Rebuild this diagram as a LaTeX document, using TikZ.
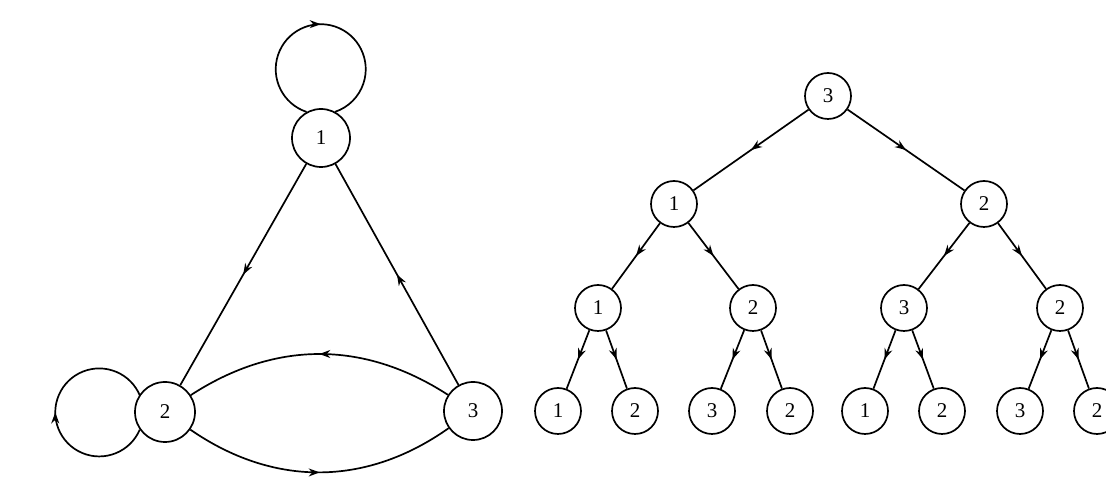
\documentclass[tikz,border=0pt]{standalone}
\usepackage{fontspec}
\setmainfont{Liberation Serif}
\usetikzlibrary{arrows.meta,decorations.markings}
\tikzset{
  gnode/.style={circle,draw,line width=1.7pt,minimum size=58pt,inner sep=0pt,font=\fontsize{21}{24}\selectfont},
  tnode/.style={gnode,minimum size=46pt},
  midarrow/.style={postaction={decorate},decoration={markings,mark=at position 0.5 with {\arrow{Stealth[length=11pt,width=8pt]}}}},
}
\begin{document}
\begin{tikzpicture}[x=1pt,y=1pt,line width=1.7pt]
\useasboundingbox (0,0) rectangle (1106,489);
% the graph on three states
\node[gnode] (g1) at (321,351) {1};
\node[gnode,minimum size=60pt] (g2) at (165,77) {2};
\node[gnode] (g3) at (473,78) {3};
\draw[midarrow] (g1) -- (g2);
\draw[midarrow] (g3) -- (g1);
\draw[midarrow] (g3) to[bend right=33] (g2);
\draw[midarrow] (g2) to[bend right=35] (g3);
\draw[midarrow] (g1.119) arc[start angle=251.6,end angle=-71.6,radius=45pt];
\draw[midarrow] (g2.215) arc[start angle=-23.1,end angle=-336.9,radius=44pt];
% the tree of paths from 3
\node[tnode] (t) at (828,393) {3};
\node[tnode] (t1) at (674,285) {1};
\node[tnode] (t2) at (984,285) {2};
\node[tnode] (t11) at (598,181) {1};
\node[tnode] (t12) at (753,181) {2};
\node[tnode] (t21) at (904,181) {3};
\node[tnode] (t22) at (1060,181) {2};
\node[tnode] (t111) at (558,78) {1};
\node[tnode] (t112) at (635,78) {2};
\node[tnode] (t121) at (712,78) {3};
\node[tnode] (t122) at (790,78) {2};
\node[tnode] (t211) at (865,78) {1};
\node[tnode] (t212) at (942,78) {2};
\node[tnode] (t221) at (1020,78) {3};
\node[tnode] (t222) at (1097,78) {2};
\draw[midarrow] (t) -- (t1);
\draw[midarrow] (t) -- (t2);
\draw[midarrow] (t1) -- (t11);
\draw[midarrow] (t1) -- (t12);
\draw[midarrow] (t2) -- (t21);
\draw[midarrow] (t2) -- (t22);
\draw[midarrow] (t11) -- (t111);
\draw[midarrow] (t11) -- (t112);
\draw[midarrow] (t12) -- (t121);
\draw[midarrow] (t12) -- (t122);
\draw[midarrow] (t21) -- (t211);
\draw[midarrow] (t21) -- (t212);
\draw[midarrow] (t22) -- (t221);
\draw[midarrow] (t22) -- (t222);
\end{tikzpicture}
\end{document}
